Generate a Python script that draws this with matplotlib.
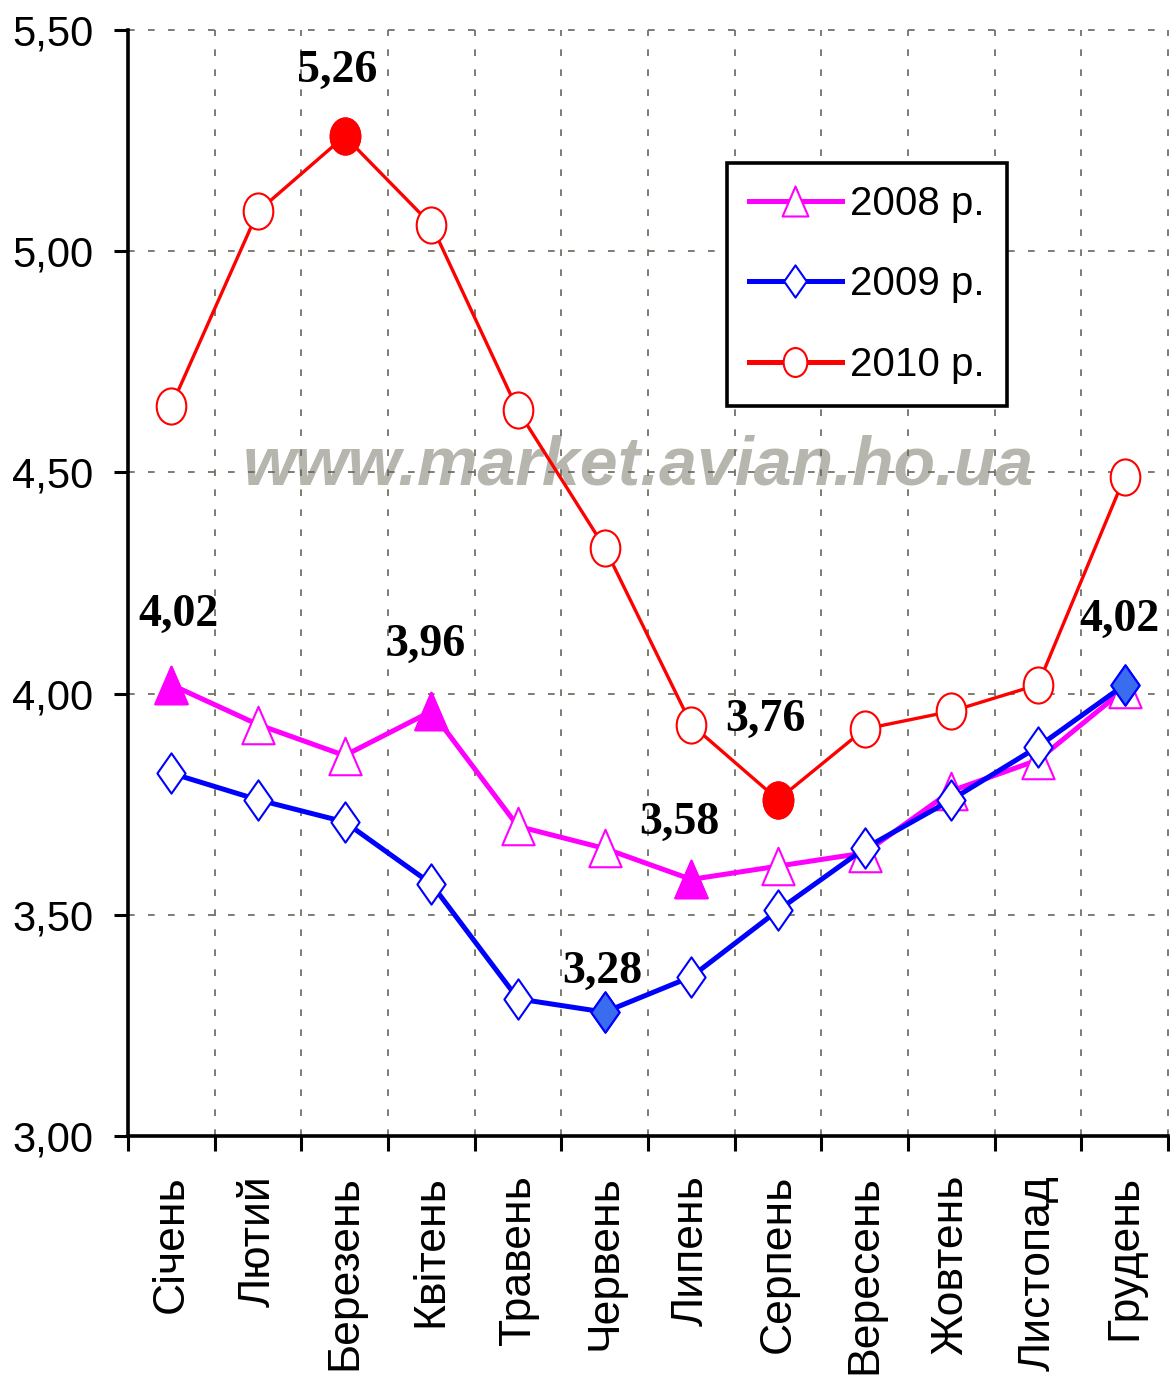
import matplotlib
matplotlib.use("Agg")
import matplotlib.pyplot as plt
import numpy as np
from matplotlib.path import Path
from matplotlib.ticker import FixedLocator, FuncFormatter

# ---------------- data ----------------
months = ["Січень", "Лютий", "Березень", "Квітень", "Травень", "Червень",
          "Липень", "Серпень", "Вересень", "Жовтень", "Листопад", "Грудень"]
series_names = ["2008 р.", "2009 р.", "2010 р."]
values_2008 = [4.02, 3.93, 3.86, 3.96, 3.70, 3.65, 3.58, 3.61, 3.64, 3.78, 3.85, 4.01]
values_2009 = [3.82, 3.76, 3.71, 3.57, 3.31, 3.28, 3.36, 3.51, 3.65, 3.76, 3.88, 4.02]
values_2010 = [4.65, 5.09, 5.26, 5.06, 4.64, 4.33, 3.93, 3.76, 3.92, 3.96, 4.02, 4.49]
# highlighted (labelled, filled) points per series: month index
highlight_2008 = [0, 3, 6]
highlight_2009 = [5, 11]
highlight_2010 = [2, 7]
y_ticks = [3.00, 3.50, 4.00, 4.50, 5.00, 5.50]
watermark = "www.market.avian.ho.ua"

# ---------------- styling ----------------
W, H = 1170, 1393
fig = plt.figure(figsize=(W / 100, H / 100), dpi=100)
ax = fig.add_axes([128 / W, 1 - 1136 / H, 1040 / W, 1106 / H])

sans = ["Liberation Sans", "DejaVu Sans"]
serif = ["Liberation Serif", "DejaVu Serif"]

tri = Path([(0, 1), (-0.86, -1), (0.86, -1), (0, 1)],
           [Path.MOVETO, Path.LINETO, Path.LINETO, Path.CLOSEPOLY])
dia = Path([(0, 1), (0.7, 0), (0, -1), (-0.7, 0), (0, 1)],
           [Path.MOVETO, Path.LINETO, Path.LINETO, Path.LINETO, Path.CLOSEPOLY])
circ_base = Path.unit_circle()
ell = Path(circ_base.vertices * np.array([0.82, 1.0]), circ_base.codes)

x = np.arange(len(months)) + 0.5

specs = [
    (values_2008, highlight_2008, "#ff00ff", "#ff00ff", tri, 27, 3.6),
    (values_2009, highlight_2009, "#0000ff", "#3a6cf0", dia, 29, 3.6),
    (values_2010, highlight_2010, "#ff0000", "#ff0000", ell, 26, 2.4),
]

handles = []
for (vals, hl, col, fillc, mk, ms, lw), name in zip(specs, series_names):
    h, = ax.plot(x, vals, color=col, lw=lw, marker=mk, ms=ms,
                 mfc="white", mec=col, mew=1.5, label=name, zorder=3)
    handles.append(h)
    ax.plot(x[hl], np.array(vals)[hl], linestyle="none", marker=mk, ms=ms,
            mfc=fillc, mec=col, mew=1.5, zorder=4)

# data labels (offsets in pixels)
label_offsets = {
    (0, 0): (7, 70), (0, 3): (-6, 66), (0, 6): (-12, 57),
    (1, 5): (-2, 40), (1, 11): (-5, 65),
    (2, 2): (-7, 65), (2, 7): (-13, 80),
}
all_vals = [values_2008, values_2009, values_2010]
for (s, i), (dx, dy) in label_offsets.items():
    v = all_vals[s][i]
    ax.annotate(f"{v:.2f}".replace(".", ","), (x[i], v), xytext=(dx, dy),
                textcoords="offset pixels", ha="center", va="center",
                fontsize=33, fontweight="bold", family=serif, zorder=6)

# axes
ax.set_xlim(0, 12)
ax.set_ylim(3.0, 5.5)
ax.yaxis.set_major_locator(FixedLocator(y_ticks))
ax.yaxis.set_major_formatter(FuncFormatter(lambda v, p: f"{v:.2f}".replace(".", ",")))
ax.xaxis.set_major_locator(FixedLocator(np.arange(0, 13)))
ax.xaxis.set_major_formatter(FuncFormatter(lambda v, p: ""))
ax.xaxis.set_minor_locator(FixedLocator(x))
ax.set_xticks(x, minor=True)
ax.set_xticklabels(months, minor=True, rotation=90, fontsize=32, family=sans,
                   va="top", ha="center")
ax.tick_params(axis="x", which="minor", length=0, pad=28)
ax.tick_params(axis="x", which="major", length=11, width=2.2, direction="out")
ax.tick_params(axis="y", which="major", length=10, width=2.2, direction="out",
               labelsize=30, pad=15)
for lab in ax.get_yticklabels():
    lab.set_family(sans)

for side in ["top", "right"]:
    ax.spines[side].set_visible(False)
for side in ["left", "bottom"]:
    ax.spines[side].set_linewidth(2.6)
    ax.spines[side].set_color("black")

ax.grid(True, which="major", color="#66665a", lw=1.2, linestyle=(0, (4, 8)))
ax.set_axisbelow(True)
for gl in ax.get_xgridlines() + ax.get_ygridlines():
    gl.set_clip_on(False)

# watermark
fig.text(638 / W, 1 - 467 / H, watermark, ha="center", va="center",
         fontsize=49, fontweight="bold", style="italic", family=sans,
         color="#b2b2aa", alpha=0.95, zorder=1)
ax.set_zorder(2)
ax.patch.set_alpha(0)

# legend
leg = ax.legend(handles=handles, loc="upper left",
                bbox_to_anchor=((727 - 128) / 1040, (1136 - 163) / 1106),
                prop={"family": sans, "size": 29}, frameon=True, fancybox=False,
                handlelength=2.3, handletextpad=0.2, labelspacing=1.05,
                borderpad=0.55, borderaxespad=0, markerscale=0.8)
leg.get_frame().set_edgecolor("black")
leg.get_frame().set_linewidth(2.6)
leg.get_frame().set_facecolor("white")
leg.get_frame().set_alpha(1)
leg.set_zorder(7)
for ln in leg.get_lines():
    ln.set_linewidth(3.6)

fig.savefig("out.png", dpi=100)
